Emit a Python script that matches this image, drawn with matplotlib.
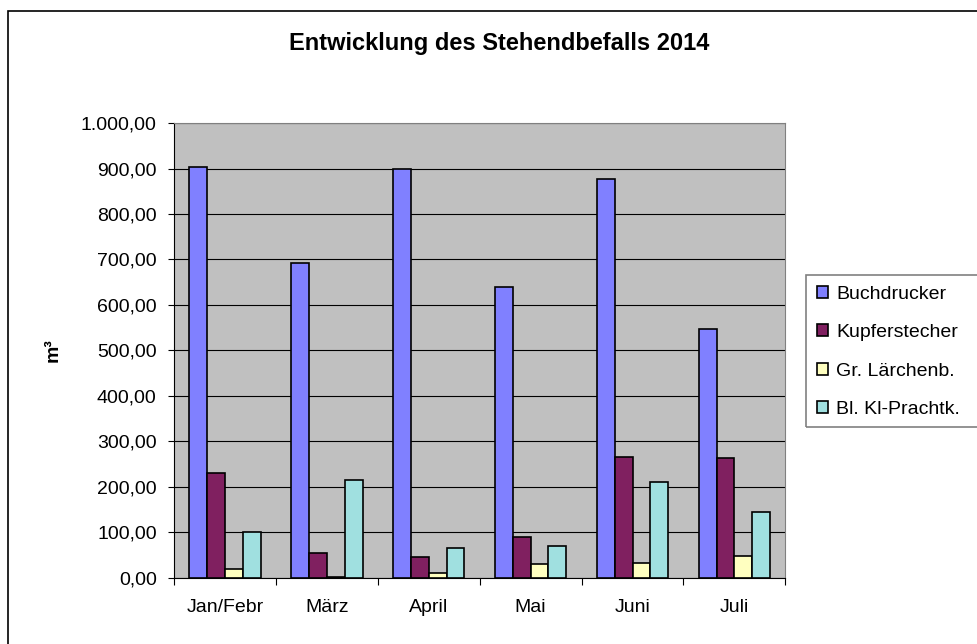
import matplotlib.pyplot as plt
import numpy as np
from matplotlib.patches import Rectangle
from matplotlib.ticker import FuncFormatter

plt.rcParams['font.family'] = ['Liberation Sans', 'DejaVu Sans']

# Monatsdaten (m³)
months = ["Jan/Febr", "März", "April", "Mai", "Juni", "Juli"]
buchdrucker = [903, 693, 900, 640, 877, 548]
kupferstecher = [231, 56, 47, 91, 267, 263]
laerchenb = [20, 3, 12, 30, 34, 48]
prachtk = [100, 215, 65, 70, 210, 144]

series = [buchdrucker, kupferstecher, laerchenb, prachtk]
names = ["Buchdrucker", "Kupferstecher", "Gr. Lärchenb.", "Bl. Kl-Prachtk."]
colors = ["#8080FF", "#802060", "#FFFFC0", "#A0E0E0"]

fig = plt.figure(figsize=(9.78, 6.44), dpi=100)
ax = fig.add_axes([0.178, 0.1025, 0.625, 0.7065])
ax.set_facecolor("#C0C0C0")

x = np.arange(len(months))
w = 0.175
for i, (vals, name, c) in enumerate(zip(series, names, colors)):
    ax.bar(x - 0.35 + w / 2 + i * w, vals, w, color=c, edgecolor="black",
           linewidth=1.2, label=name, zorder=3)

ax.set_xlim(-0.5, len(months) - 0.5)
ax.set_ylim(0, 1000)
ax.set_yticks(np.arange(0, 1001, 100))
ax.yaxis.set_major_formatter(FuncFormatter(
    lambda v, p: f"{v:,.2f}".replace(",", "X").replace(".", ",").replace("X", ".")))
ax.yaxis.grid(True, color="black", linewidth=0.8, zorder=1)
ax.set_axisbelow(True)

# x-Ticks zwischen den Kategorien
ax.set_xticks(np.arange(-0.5, len(months), 1))
ax.set_xticklabels([])
ax.set_xticks(x, minor=True)
ax.set_xticklabels(months, minor=True)
ax.tick_params(axis="x", which="minor", length=0, pad=15, labelsize=14)
ax.tick_params(axis="x", which="major", length=5, direction="out")
ax.tick_params(axis="y", length=4.5, direction="out", labelsize=14, pad=8)

for s in ["top", "right"]:
    ax.spines[s].set_color("#808080")
for s in ["left", "bottom"]:
    ax.spines[s].set_color("black")

ax.set_ylabel("m³", fontsize=14, fontweight="bold", labelpad=14)
fig.text(0.51, 0.932, "Entwicklung des Stehendbefalls 2014", ha="center",
         va="center", fontsize=17, fontweight="bold")

leg = fig.legend(loc="upper left", bbox_to_anchor=(0.824, 0.573), frameon=False,
                 fontsize=14, handlelength=0.6, handleheight=0.6,
                 handletextpad=0.4, labelspacing=1.1, borderpad=0.55,
                 borderaxespad=0)

# Legendenrahmen (rechts abgeschnitten)
fig.patches.append(Rectangle((806 / 978, 1 - 427 / 644), 0.3, 152 / 644,
                             transform=fig.transFigure, fill=False,
                             edgecolor="#808080", linewidth=1.2))

# Rahmen um das Diagramm (rechts und unten abgeschnitten)
fig.patches.append(Rectangle((8 / 978, -0.05), 1.1, 1.05 - 11 / 644,
                             transform=fig.transFigure, fill=False,
                             edgecolor="black", linewidth=1.2))

fig.savefig("out.png", dpi=100)
